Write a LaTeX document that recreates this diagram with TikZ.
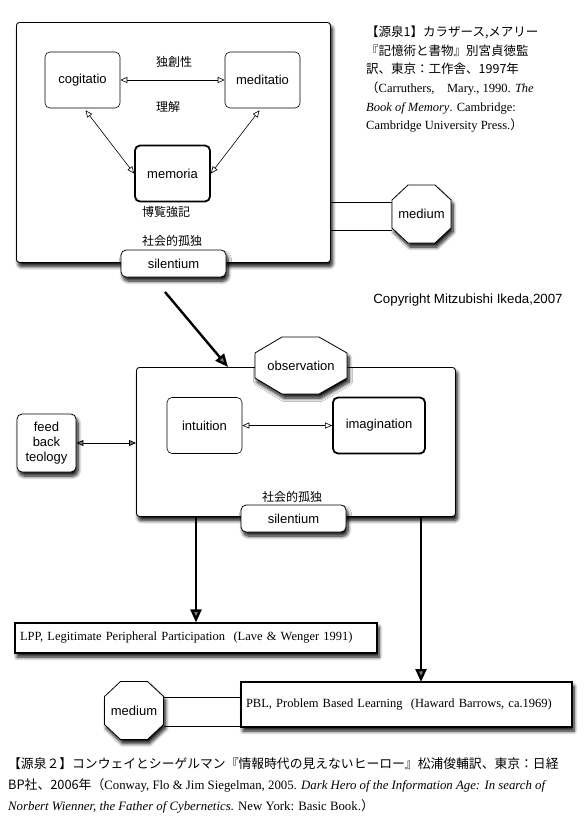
\documentclass[tikz,border=0pt]{standalone}
\usepackage{fontspec}
\setmainfont{Liberation Serif}
\setsansfont{Liberation Sans}
\newfontfamily\jp{Noto Sans CJK JP}
\usetikzlibrary{arrows.meta,calc,positioning,shadows.blur}

\begin{document}
\begin{tikzpicture}[
  x=1pt, y=-1pt,
  font=\sffamily\fontsize{13}{15}\selectfont,
  shade/.style   ={blur shadow={shadow xshift=2pt,shadow yshift=-4pt,
                   shadow blur radius=3.5pt,shadow opacity=95,shadow blur steps=8}},
  panel/.style   ={draw,line width=0.9pt,rounded corners=3pt,fill=white,
                   shade,anchor=north west,inner sep=0pt},
  idea/.style    ={draw,line width=0.6pt,rounded corners=5pt,fill=white,
                   minimum width=75,minimum height=56},
  keyidea/.style ={idea,line width=1.8pt},
  tag/.style     ={draw,line width=0.8pt,rounded corners=5pt,fill=white,shade,
                   minimum width=105,minimum height=27,align=center},
  octa/.style    ={draw,line width=0.8pt,fill=white,shade},
  octtext/.style ={inner sep=0pt},
  refbox/.style  ={draw,line width=1.1pt,fill=white,shade,inner sep=5pt,
                   align=left,font=\rmfamily\fontsize{12.5}{14}\selectfont},
  jplabel/.style ={font=\jp\fontsize{12}{14}\selectfont},
  cite/.style    ={align=left,inner sep=0pt,anchor=north west},
  link/.style    ={line width=0.8pt},
  twoway/.style  ={line width=0.6pt,
                   {Triangle[open,length=7pt,width=6pt]}-{Triangle[open,length=7pt,width=6pt]}},
  feedarr/.style ={line width=0.8pt,
                   {Triangle[length=7pt,width=6pt]}-{Triangle[length=7pt,width=6pt]}},
  flow/.style    ={line width=2.4pt,-{Triangle[length=13pt,width=11pt]}},
]
\useasboundingbox (0,0) rectangle (584,833);

%% ============================================================
%%  Upper panel: cogitatio / meditatio / memoria
%% ============================================================
\node[panel,minimum width=314,minimum height=240] (memorybox) at (16,22) {};

\node[idea]    (cogitatio) at (82.5,80)     {cogitatio};
\node[idea]    (meditatio) at (262.5,80)    {meditatio};
\node[keyidea] (memoria)   at (172.5,173.5) {memoria};

\node[jplabel] (originality) at (174,62)  {独創性};
\node[jplabel] (understand)  at (168,107) {理解};
\node[jplabel] (erudition)   at (166,212) {博覧強記};
\node[jplabel] (solitudeA)   at (172,241) {社会的孤独};

\draw[twoway] (cogitatio) -- (meditatio);
\draw[twoway] ($(cogitatio.south)+(3,2)$) -- (memoria.west);
\draw[twoway] ($(meditatio.south)+(-3,2)$) -- (memoria.east);

\node[tag] (silentiumA) at (173.5,263.5) {silentium};

%% medium on the right
\node[octtext,minimum width=59,minimum height=58] (mediumA) at (421.5,214) {};
\draw[link] (memorybox.east |- 0,202) -- (mediumA.west |- 0,202);
\draw[link] (memorybox.east |- 0,230) -- (mediumA.west |- 0,230);
\path[octa] (408,185) -- ++(27,0) -- ++(16,15) -- ++(0,28) -- ++(-16,15)
            -- ++(-27,0) -- ++(-16,-15) -- ++(0,-28) -- cycle;
\node at (mediumA) {medium};

\node (copyright) at (468,300) {\fontsize{13.3}{15}\selectfont Copyright Mitzubishi Ikeda,2007};

%% ============================================================
%%  Citation 1
%% ============================================================
\node[cite,font=\rmfamily\fontsize{12.5}{18.6}\selectfont] (citeA) at (366,26)
  {{\jp 【源泉1】カラザース,メアリー}\\
   {\jp 『記憶術と書物』別宮貞徳監}\\
   {\jp 訳、東京：工作舎、1997年}\\
   {\jp （}Carruthers,{\jp 　}Mary., 1990. \textit{The}\\
   \textit{Book of Memory}. Cambridge:\\
   Cambridge University Press.{\jp ）}};

%% ============================================================
%%  Middle panel: intuition / imagination
%% ============================================================
\coordinate (flowstart) at (165,292);
\node[panel,minimum width=319,minimum height=149] (insightbox) at (136,367) {};
\draw[flow] (flowstart) -- ($(insightbox.north west)+(92,0)$);

\path[octa] (282,337) -- ++(37,0) -- ++(28,16) -- ++(0,25) -- ++(-28,16)
            -- ++(-37,0) -- ++(-27,-16) -- ++(0,-25) -- cycle;
\node[octtext] (observation) at (301,365.5) {observation};

\node[idea]    (intuition)   at (204.5,425.5) {intuition};
\node[keyidea,minimum width=92] (imagination) at (379,425.5) {imagination};
\draw[twoway] (intuition) -- (imagination);

\node[jplabel] (solitudeB) at (292,497) {社会的孤独};
\node[tag] (silentiumB) at (293.5,518.5) {silentium};

\node[tag,minimum width=59,minimum height=58] (feedback) at (46.5,443)
      {feed\\back\\teology};
\draw[feedarr] (feedback) -- (insightbox.west |- feedback);

%% ============================================================
%%  LPP and PBL
%% ============================================================
\node[refbox,text width=352,minimum height=30] (lpp) at (196,638)
  {LPP, Legitimate Peripheral Participation\ \ (Lave \& Wenger 1991)};
\draw[flow] (insightbox.south -| lpp.north) -- (lpp.north);

\node[refbox,text width=321,minimum height=45] (pbl) at (406.5,704.5)
  {PBL, Problem Based Learning\ \ (Haward Barrows, ca.1969)};
\coordinate (pbltop) at (421,682);
\draw[flow] (insightbox.south -| pbltop) -- (pbltop);

\node[octtext,minimum width=59,minimum height=58] (mediumB) at (134,710.5) {};
\draw[link] (mediumB.east |- 0,697) -- (pbl.west |- 0,697);
\draw[link] (mediumB.east |- 0,726) -- (pbl.west |- 0,726);
\path[octa] (120.5,681.5) -- ++(27,0) -- ++(16,15) -- ++(0,28) -- ++(-16,15)
            -- ++(-27,0) -- ++(-16,-15) -- ++(0,-28) -- cycle;
\node at (mediumB) {medium};

%% ============================================================
%%  Citation 2
%% ============================================================
\node[cite,font=\rmfamily\fontsize{12.8}{21.2}\selectfont] (citeB) at (8,757)
  {{\jp 【源泉２】コンウェイとシーゲルマン『情報時代の見えないヒーロー』松浦俊輔訳、東京：日経}\\
   {\jp BP社、2006年（}Conway, Flo \& Jim Siegelman, 2005. \textit{Dark Hero of the Information Age: In search of}\\
   \textit{Norbert Wienner, the Father of Cybernetics}. New York: Basic Book.{\jp ）}};

\end{tikzpicture}
\end{document}
